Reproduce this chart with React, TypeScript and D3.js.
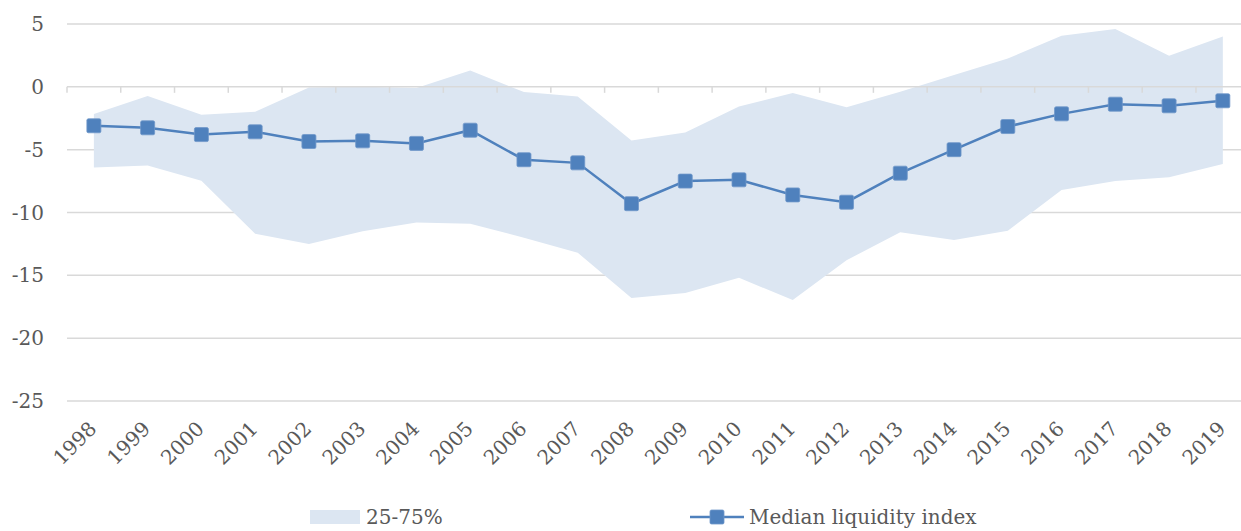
import React from "react";
import * as d3 from "d3";

const years = ["1998","1999","2000","2001","2002","2003","2004","2005","2006","2007","2008","2009","2010","2011","2012","2013","2014","2015","2016","2017","2018","2019"];
const median = [-3.1, -3.26, -3.8, -3.58, -4.35, -4.3, -4.5, -3.45, -5.8, -6.05, -9.3, -7.5, -7.4, -8.6, -9.18, -6.87, -5.0, -3.16, -2.15, -1.38, -1.51, -1.11];
const p75 = [-2.17, -0.72, -2.23, -1.99, -0.05, 0.0, -0.1, 1.3, -0.42, -0.77, -4.27, -3.63, -1.57, -0.5, -1.62, -0.4, 0.95, 2.25, 4.06, 4.6, 2.47, 4.0];
const p25 = [-6.42, -6.26, -7.48, -11.7, -12.5, -11.5, -10.8, -10.9, -12.0, -13.2, -16.8, -16.4, -15.2, -16.96, -13.8, -11.57, -12.18, -11.46, -8.2, -7.5, -7.2, -6.15];
const yTicks = [5, 0, -5, -10, -15, -20, -25];
const legendLabels = ["25-75%", "Median liquidity index"];

const W = 1241, H = 531;
const FONT = "'DejaVu Serif', serif";
const TXT = "#595959";
const BLUE = "#4F81BD";
const BAND = "#DCE6F2";
const GRID = "#D9D9D9";

export default function App() {
  const x = d3.scaleBand<string>().domain(years).range([67, 67 + 22 * 53.76]).padding(0);
  const y = d3.scaleLinear().domain([-25, 5]).range([401, 24]);
  const cx = (i: number) => (x(years[i]) as number) + x.bandwidth() / 2;
  const idx = years.map((_, i) => i);

  const area = d3.area<number>().x((i) => cx(i)).y0((i) => y(p25[i])).y1((i) => y(p75[i]));
  const line = d3.line<number>().x((i) => cx(i)).y((i) => y(median[i]));
  const [x0, x1] = x.range();
  const boundaries = d3.range(years.length + 1).map((k) => x0 + k * x.bandwidth());

  return (
    <svg width={W} height={H} style={{ position: "absolute", left: 0, top: 0, background: "#fff" }} fontFamily={FONT}>
      {yTicks.filter((t) => t !== 0).map((t) => (
        <line key={t} x1={x0} x2={x1} y1={y(t)} y2={y(t)} stroke={GRID} strokeWidth={1.5} />
      ))}
      <path d={area(idx) || ""} fill={BAND} />
      <line x1={x0} x2={x1} y1={y(0)} y2={y(0)} stroke={GRID} strokeWidth={1.5} />
      {boundaries.map((b, k) => (
        <line key={k} x1={b} x2={b} y1={y(0)} y2={y(0) + 6} stroke={GRID} strokeWidth={1.5} />
      ))}
      {yTicks.map((t) => (
        <text key={t} x={44} y={y(t)} dy="0.35em" textAnchor="end" fontSize={20} fill={TXT}>{t}</text>
      ))}
      {years.map((yr, i) => (
        <text key={yr} transform={`translate(${cx(i) - 1},${425}) rotate(-45)`} dy="0.35em" textAnchor="end" fontSize={20} fill={TXT}>{yr}</text>
      ))}
      <path d={line(idx) || ""} fill="none" stroke={BLUE} strokeWidth={2.5} />
      {idx.map((i) => (
        <rect key={i} x={cx(i) - 7} y={y(median[i]) - 7} width={14} height={14} rx={1.5} fill={BLUE} stroke="#6f97c9" strokeWidth={0.8} />
      ))}
      <rect x={310} y={510} width={50} height={14} fill={BAND} />
      <text x={366} y={517} dy="0.35em" fontSize={20} fill={TXT}>{legendLabels[0]}</text>
      <line x1={690} x2={744} y1={517} y2={517} stroke={BLUE} strokeWidth={2.5} />
      <rect x={710} y={510} width={14} height={14} rx={1.5} fill={BLUE} stroke="#6f97c9" strokeWidth={0.8} />
      <text x={749} y={517} dy="0.35em" fontSize={20} fill={TXT}>{legendLabels[1]}</text>
    </svg>
  );
}
